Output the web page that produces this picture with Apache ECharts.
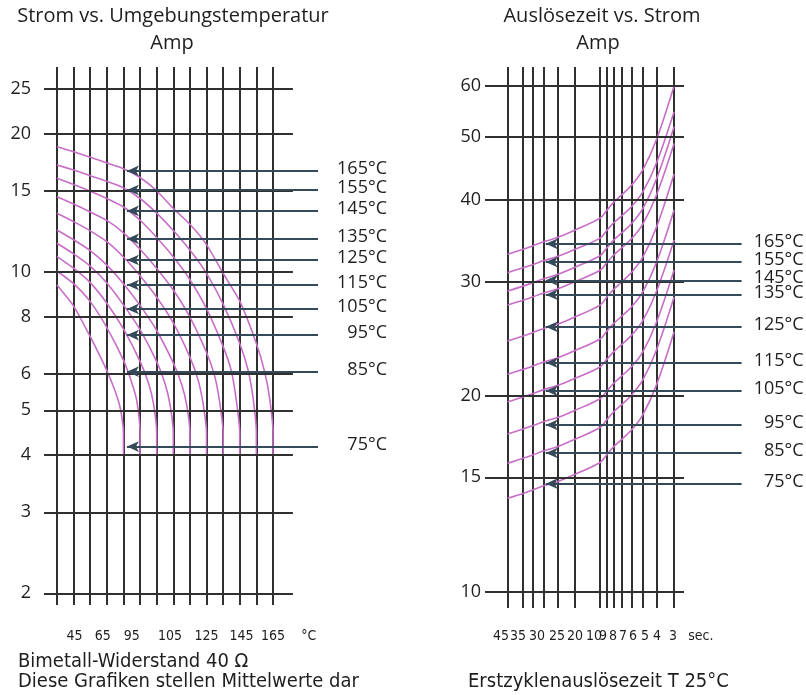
<!DOCTYPE html>
<html><head><meta charset="utf-8">
<script src="https://cdn.jsdelivr.net/npm/echarts@6/dist/echarts.min.js"></script>
<style>html,body{margin:0;padding:0;background:#fff}#c{width:806px;height:695px}</style>
</head><body><div id="c"></div>
<script>
// ---------------- DATA ----------------
const ratedLabels = ['165°C','155°C','145°C','135°C','125°C','115°C','105°C','95°C','85°C','75°C'];

// Left chart: current (A) vs ambient temperature (°C), one curve per rated temperature
const ambT165 = [35,45,55,65,75,85,95,105,115,125,135,145,155,160,163,165,165];
const amp165  = [18.73,18.27,17.77,17.26,16.78,16.05,15.02,13.75,12.70,11.47,9.93,8.64,6.99,6.06,5.31,4.47,4.0];
const ambT155 = [35,45,55,65,75,85,95,105,115,125,135,145,150,153,155,155];
const amp155  = [17.09,16.66,16.20,15.75,15.24,14.45,13.43,12.31,11.16,9.93,8.51,6.99,6.12,5.32,4.47,4.0];
const ambT145 = [35,45,55,65,75,85,95,105,115,125,135,140,143,145,145];
const amp145  = [15.99,15.50,14.99,14.45,13.85,12.96,11.89,10.79,9.62,8.32,6.88,6.08,5.23,4.47,4.0];
const ambT135 = [35,45,55,65,75,85,95,105,115,125,130,133,135,135];
const amp135  = [14.58,14.06,13.51,12.95,12.17,11.21,10.18,9.14,7.98,6.68,5.92,5.18,4.47,4.0];
const ambT125 = [35,45,55,65,75,85,95,105,115,120,123,125,125];
const amp125  = [13.42,12.87,12.29,11.64,10.78,9.81,8.81,7.75,6.53,5.81,5.15,4.47,4.0];
const ambT115 = [35,45,55,65,75,85,95,105,110,113,115,115];
const amp115  = [12.34,11.75,11.13,10.35,9.43,8.46,7.46,6.34,5.70,5.15,4.47,4.0];
const ambT105 = [35,45,55,65,75,85,95,100,103,105,105];
const amp105  = [11.55,10.95,10.30,9.46,8.48,7.49,6.38,5.72,5.15,4.47,4.0];
const ambT95  = [35,45,55,65,75,85,90,93,95,95];
const amp95   = [10.80,10.19,9.48,8.55,7.52,6.39,5.74,5.19,4.47,4.0];
const ambT85  = [35,45,55,65,75,80,83,85,85];
const amp85   = [10.05,9.43,8.62,7.57,6.43,5.74,5.25,4.47,4.0];
const ambT75  = [35,45,55,65,70,73,75,75];
const amp75   = [9.37,8.43,7.23,6.10,5.50,5.07,4.47,4.0];

const leftArrowAmps = [16.59,15.08,13.58,11.80,10.62,9.37,8.31,7.29,6.07,4.17];
const leftAmpTicks = [2,3,4,5,6,8,10,15,20,25];
const leftTempLines = [35,45,55,65,75,85,95,105,115,125,135,145,155,165];
const leftTempTickLabels = ['45','65','95','105','125','145','165','°C'];

// Right chart: current (A) vs trip time (s)
const tripTimes = [45,35,30,25,20,15,10,9,8,7,6,5,4,3];
const tAmp165 = [33.03,33.63,34.02,34.53,35.05,36.00,37.53,38.55,39.72,40.79,42.16,44.48,49.52,59.9];
const tAmp155 = [30.95,31.48,31.84,32.30,32.76,33.61,34.98,35.89,36.93,37.88,39.09,41.15,45.58,54.70];
const tAmp145 = [29.00,29.51,29.86,30.29,30.74,31.55,32.86,33.74,34.73,35.65,36.81,38.79,43.07,51.87];
const tAmp135 = [27.60,28.07,28.40,28.81,29.22,29.99,31.21,32.02,32.95,33.81,34.89,36.73,40.71,48.88];
const tAmp125 = [24.30,24.74,25.03,25.41,25.78,26.47,27.59,28.34,29.19,29.97,30.96,32.66,36.33,43.89];
const tAmp115 = [21.60,21.98,22.23,22.56,22.89,23.50,24.47,25.13,25.87,26.55,27.41,28.89,32.07,38.63];
const tAmp105 = [19.60,19.94,20.17,20.46,20.76,21.30,22.17,22.75,23.40,24.02,24.79,26.10,28.93,34.74];
const tAmp95  = [17.49,17.80,18.00,18.27,18.53,19.02,19.81,20.33,20.93,21.49,22.18,23.37,25.95,31.24];
const tAmp85  = [15.76,16.05,16.23,16.48,16.72,17.17,17.89,18.37,18.92,19.42,20.06,21.16,23.52,28.39];
const tAmp75  = [13.93,14.17,14.34,14.56,14.77,15.17,15.81,16.23,16.72,17.17,17.73,18.70,20.79,25.11];

const rightArrowAmps = [34.27,32.13,30.12,28.63,25.55,22.50,20.37,18.06,16.35,14.67];
const rightAmpTicks = [10,15,20,30,40,50,60];
const rightTimeTickLabels = ['45','35','30','25','20','10','9','8','7','6','5','4','3','sec.'];

// ---------------- LAYOUT / STYLE ----------------
const leftTempLabelAt = [45.5,62.5,80,103,125,146,165,186.5];
const rightTimeLabelAt = [50.15,37.98,27.88,20.15,15.03,11.03,9.53,8.10,6.88,5.85,4.81,3.96,3.05,1.94];
const leftX = {min:27.18, max:192.09, hMax:177, arrowAt:77.1};
const rightX = {min:1, max:65, hMax:2.552, arrowAt:24.2};
const FONT = "'Open Sans', 'Noto Sans', sans-serif";
const NARROW = "'Liberation Sans Narrow', 'DejaVu Sans Condensed', 'Open Sans', sans-serif";
const TXT = '#1e1e1e';
const CURVE = '#c86ec8';
const GRIDC = '#303030';
const LEAD = '#34495a';

const leftCurves = [[ambT165,amp165],[ambT155,amp155],[ambT145,amp145],[ambT135,amp135],[ambT125,amp125],
  [ambT115,amp115],[ambT105,amp105],[ambT95,amp95],[ambT85,amp85],[ambT75,amp75]];
const rightCurves = [tAmp165,tAmp155,tAmp145,tAmp135,tAmp125,tAmp115,tAmp105,tAmp95,tAmp85,tAmp75];

function nearestLabel(v, at, labels){
  let bi = 0, bd = Infinity;
  at.forEach((p,i)=>{const d=Math.abs(p-v); if(d<bd){bd=d;bi=i;}});
  return labels[bi];
}

function gridLineMarks(ticks, x0, x1){
  return ticks.map(v => [{coord:[x0, v]}, {coord:[x1, v]}]);
}

function leaderMark(xStart, xEnd, amp, label, dist){
  return {
    silent:true, symbol:['arrow','none'], symbolSize:[8,12], animation:false, z:6,
    lineStyle:{type:'solid', color:LEAD, width:1.8},
    label:{show:true, position:'end', distance:dist, formatter:'{t|'+label+'}',
      rich:{t:{width:54, align:'right', fontSize:18, color:TXT, fontFamily:FONT, padding:[0,0,4,0]}}},
    data:[[{coord:[xStart, amp]}, {coord:[xEnd, amp]}]]
  };
}

const series = [];
// grid horizontal lines (as marker lines so they can stop short of the leader-line area)
series.push({type:'line', xAxisIndex:0, yAxisIndex:0, data:[], silent:true,
  markLine:{silent:true, symbol:['none','none'], animation:false, z:5, label:{show:false},
    lineStyle:{type:'solid', color:GRIDC, width:2}, data:gridLineMarks(leftAmpTicks, leftX.min, leftX.hMax)}});
series.push({type:'line', xAxisIndex:1, yAxisIndex:1, data:[], silent:true,
  markLine:{silent:true, symbol:['none','none'], animation:false, z:5, label:{show:false},
    lineStyle:{type:'solid', color:GRIDC, width:2}, data:gridLineMarks(rightAmpTicks, rightX.max, rightX.hMax)}});

leftCurves.forEach((c,i)=>{
  series.push({type:'line', name:'L'+ratedLabels[i], xAxisIndex:0, yAxisIndex:0,
    data:c[0].map((t,j)=>[t, c[1][j]]), symbol:'none', smooth:0.2, animation:false, z:3,
    lineStyle:{color:CURVE, width:1.6},
    markLine:leaderMark(leftX.arrowAt, leftX.max, leftArrowAmps[i], ratedLabels[i], 15)});
});
rightCurves.forEach((c,i)=>{
  series.push({type:'line', name:'R'+ratedLabels[i], xAxisIndex:1, yAxisIndex:1,
    data:tripTimes.map((t,j)=>[t, c[j]]), symbol:'none', smooth:0.35, animation:false, z:3,
    lineStyle:{color:CURVE, width:1.6},
    markLine:leaderMark(rightX.arrowAt, rightX.min, rightArrowAmps[i], ratedLabels[i], 8)});
});

const titleStyle = {fontSize:20, fontWeight:'normal', color:TXT, fontFamily:FONT};
const noteStyle = {fontSize:20, fontWeight:'normal', color:TXT, fontFamily:NARROW};

const option = {
  backgroundColor:'#fff',
  animation:false,
  textStyle:{fontFamily:FONT},
  title:[
    {text:'Strom vs. Umgebungstemperatur', left:173, top:6, textAlign:'center', padding:0, textStyle:titleStyle},
    {text:'Amp', left:172, top:33, textAlign:'center', padding:0, textStyle:titleStyle},
    {text:'Auslösezeit vs. Strom', left:602, top:6, textAlign:'center', padding:0, textStyle:titleStyle},
    {text:'Amp', left:598, top:33, textAlign:'center', padding:0, textStyle:titleStyle},
    {text:'Bimetall-Widerstand 40 Ω', left:18, top:652, padding:0, textStyle:noteStyle},
    {text:'Diese Grafiken stellen Mittelwerte dar', left:18, top:672, padding:0, textStyle:noteStyle},
    {text:'Erstzyklenauslösezeit T 25°C', left:468, top:672, padding:0, textStyle:noteStyle}
  ],
  grid:[
    {left:44, right:488, top:67, bottom:90, outerBoundsMode:'none', containLabel:false},
    {left:485, right:64.4, top:67, bottom:87, outerBoundsMode:'none', containLabel:false}
  ],
  xAxis:[
    {type:'value', gridIndex:0, min:leftX.min, max:leftX.max,
      axisLine:{show:false}, axisTick:{show:false, customValues:leftTempLines},
      splitLine:{show:true, lineStyle:{color:GRIDC, width:2}},
      axisLabel:{customValues:leftTempLabelAt, margin:24, fontSize:14, color:TXT, fontFamily:NARROW,
        formatter:v=>nearestLabel(v, leftTempLabelAt, leftTempTickLabels)}},
    {type:'log', gridIndex:1, min:rightX.min, max:rightX.max, inverse:true, logBase:10,
      axisLine:{show:false}, axisTick:{show:false, customValues:tripTimes},
      splitLine:{show:true, lineStyle:{color:GRIDC, width:2}},
      axisLabel:{customValues:rightTimeLabelAt, margin:21, fontSize:14, color:TXT, fontFamily:NARROW,
        formatter:v=>nearestLabel(v, rightTimeLabelAt, rightTimeTickLabels)}}
  ],
  yAxis:[
    {type:'log', gridIndex:0, min:1.886, max:27.92, logBase:10,
      axisLine:{show:false}, axisTick:{show:false}, splitLine:{show:false},
      axisLabel:{customValues:leftAmpTicks, margin:13, fontSize:18, color:TXT, fontFamily:FONT, padding:[0,0,8,0]}},
    {type:'log', gridIndex:1, min:9.447, max:64.08, logBase:10,
      axisLine:{show:false}, axisTick:{show:false}, splitLine:{show:false},
      axisLabel:{customValues:rightAmpTicks, margin:4, fontSize:18, color:TXT, fontFamily:FONT, padding:[0,0,8,0]}}
  ],
  series:series
};
const chart = echarts.init(document.getElementById('c'), null, {renderer:'canvas'});
chart.setOption(option);
</script></body></html>
